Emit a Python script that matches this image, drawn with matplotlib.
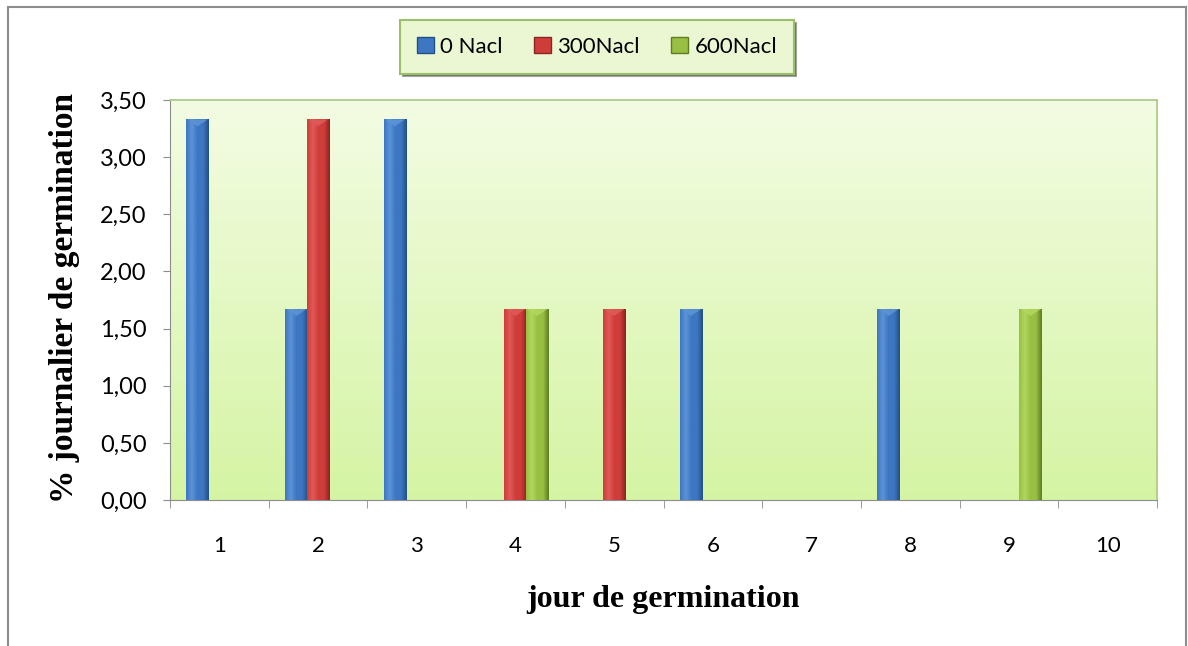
import numpy as np
import matplotlib
matplotlib.use("Agg")
import matplotlib.pyplot as plt
from matplotlib.patches import Rectangle, Polygon
from matplotlib.lines import Line2D
from matplotlib.colors import LinearSegmentedColormap

# Daily germination percentage per day, for each NaCl concentration
days = [1, 2, 3, 4, 5, 6, 7, 8, 9, 10]
series_names = ["0 Nacl", "300Nacl", "600Nacl"]
nacl_0 = [3.33, 1.67, 3.33, 0, 0, 1.67, 0, 1.67, 0, 0]
nacl_300 = [0, 3.33, 0, 1.67, 1.67, 0, 0, 0, 0, 0]
nacl_600 = [0, 0, 0, 1.67, 0, 0, 0, 0, 1.67, 0]
y_ticks = [0.0, 0.5, 1.0, 1.5, 2.0, 2.5, 3.0, 3.5]

base_colors = ["#3d77c2", "#cf3d3a", "#98bf42"]
dark_colors = ["#234f85", "#8a2422", "#5f7c25"]
light_colors = ["#5d93d6", "#e05a57", "#b2d660"]

W, H = 1188, 646
fig = plt.figure(figsize=(W / 100, H / 100), dpi=100)

# outer frame (left, top, right)
for xs, ys in [([8 / W, 8 / W], [0, 1 - 7 / H]),
               ([8 / W, 1186 / W], [1 - 7 / H, 1 - 7 / H]),
               ([1186 / W, 1186 / W], [1 - 7 / H, 0])]:
    fig.add_artist(Line2D(xs, ys, transform=fig.transFigure, color="#8c8c8c", lw=1.5))

ax = fig.add_axes([170 / W, 1 - 500 / H, (1157 - 170) / W, 400 / H])
ax.set_facecolor("none")

# plot-area background gradient
grad = np.linspace(0, 1, 256).reshape(-1, 1)
bg_cmap = LinearSegmentedColormap.from_list("bg", ["#f3fce3", "#d5f4a3"])
ax.imshow(grad, extent=[0, 1, 0, 1], transform=ax.transAxes, cmap=bg_cmap,
          aspect="auto", origin="upper", zorder=0)
for s in ["top", "right"]:
    ax.spines[s].set_color("#a8c882")
    ax.spines[s].set_linewidth(1.2)
ax.spines["left"].set_color("#8c8c8c")
ax.spines["bottom"].set_color("#8c8c8c")

x = np.arange(len(days))
width = 0.23
offsets = [-0.22, 0.0, 0.22]
all_vals = [nacl_0, nacl_300, nacl_600]

for vals, off, c, dk, lt in zip(all_vals, offsets, base_colors, dark_colors, light_colors):
    cmap = LinearSegmentedColormap.from_list("b", [c, lt, c, c, dk])
    bars = ax.bar(x + off, vals, width, color=c, edgecolor="none", zorder=3)
    for b, v in zip(bars, vals):
        if v <= 0:
            continue
        x0 = b.get_x()
        im = ax.imshow(np.linspace(0, 1, 64).reshape(1, -1), cmap=cmap,
                       extent=[x0, x0 + width, 0, v], aspect="auto", zorder=3.5)
        im.set_clip_path(b)
        # bevelled top
        tri = Polygon([[x0 + width * 0.06, v], [x0 + width * 0.94, v],
                       [x0 + width * 0.5, v - 0.06]], closed=True,
                      facecolor=lt, edgecolor="none", alpha=0.9, zorder=4)
        ax.add_patch(tri)

ax.set_xlim(-0.5, len(days) - 0.5)
ax.set_ylim(0, 3.5)
ax.set_yticks(y_ticks)
ax.set_yticklabels([f"{t:.2f}".replace(".", ",") for t in y_ticks])
ax.set_xticks(x)
ax.set_xticklabels([str(d) for d in days])
ax.set_xticks(np.arange(-0.5, len(days), 1.0), minor=True)
ax.tick_params(axis="x", which="major", length=0, pad=26, labelsize=16)
ax.tick_params(axis="x", which="minor", length=6, color="#8c8c8c", direction="out")
ax.tick_params(axis="y", length=5, color="#8c8c8c", pad=12, labelsize=17)
for lab in ax.get_xticklabels() + ax.get_yticklabels():
    lab.set_fontfamily("Lato")

fig.text(65 / W, 1 - 298 / H, "% journalier de germination", rotation=90,
         ha="center", va="center", fontsize=24, fontweight="bold",
         family="Liberation Serif")
fig.text(663 / W, 1 - 600 / H, "jour de germination", ha="center", va="center",
         fontsize=23, fontweight="bold", family="Liberation Serif")

# legend
handles = [Rectangle((0, 0), 1, 1, facecolor=c, edgecolor=d)
           for c, d in zip(base_colors, dark_colors)]
leg = fig.legend(handles, series_names, loc="center", bbox_to_anchor=(597 / W, 1 - 47 / H),
                 ncol=3, frameon=True, fancybox=False, shadow=True,
                 prop={"family": "Lato", "size": 16}, handlelength=0.75, handleheight=0.75,
                 handletextpad=0.3, columnspacing=1.4, borderpad=0.75, borderaxespad=0)
frame = leg.get_frame()
frame.set_facecolor("#eaf7d2")
frame.set_edgecolor("#9cc069")
frame.set_linewidth(1.5)

fig.savefig("out.png", dpi=100)
